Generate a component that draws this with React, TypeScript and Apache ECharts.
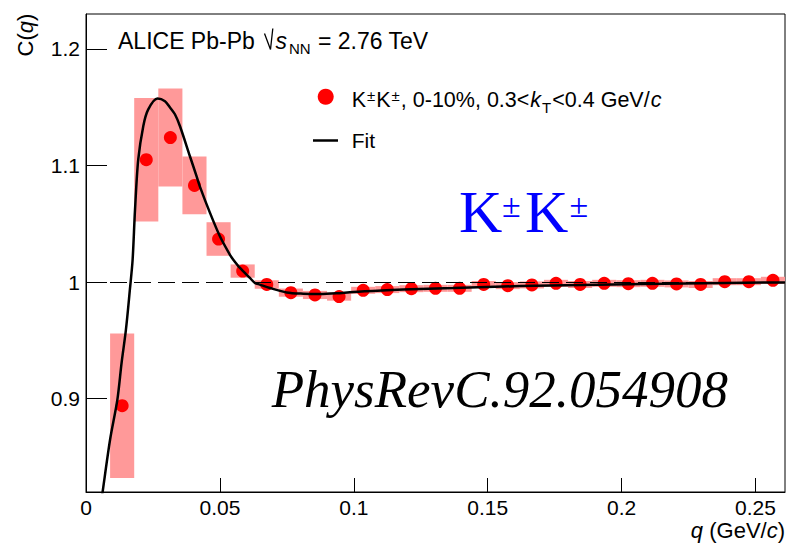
import React, { useEffect, useRef } from "react";
import * as echarts from "echarts";

// ---- data ----
const qValues = [
  0.0135, 0.0225, 0.0315, 0.0405, 0.0495, 0.0585, 0.0675, 0.0765, 0.0855, 0.0945,
  0.1035, 0.1125, 0.1215, 0.1305, 0.1395, 0.1485, 0.1575, 0.1665, 0.1755, 0.1845,
  0.1935, 0.2025, 0.2115, 0.2205, 0.2295, 0.2385, 0.2475, 0.2565,
];
const cValues = [
  0.894, 1.105, 1.124, 1.083, 1.037, 1.0095, 0.998, 0.991, 0.989, 0.9876,
  0.993, 0.9936, 0.9944, 0.9947, 0.9947, 0.998, 0.997, 0.9976, 0.999, 0.998,
  0.999, 0.9987, 0.999, 0.9985, 0.998, 1.0004, 1.0004, 1.0016,
];
const sysErrors = [
  0.062, 0.053, 0.042, 0.0247, 0.0144, 0.0057, 0.0036, 0.0035, 0.0035, 0.0035,
  0.003, 0.003, 0.003, 0.003, 0.003, 0.003, 0.003, 0.003, 0.003, 0.003,
  0.003, 0.003, 0.003, 0.003, 0.003, 0.003, 0.003, 0.003,
];
const binWidth = 0.009;

const fitQ = [
  0.005, 0.0062, 0.009, 0.0117, 0.0133, 0.0149, 0.0164, 0.0174, 0.0183, 0.0195,
  0.0214, 0.0232, 0.0267, 0.0295, 0.0313, 0.0332, 0.0351, 0.0388, 0.0413, 0.0425,
  0.0463, 0.05, 0.0537, 0.055, 0.0575, 0.0612, 0.0631, 0.0649, 0.0687, 0.0749,
  0.0811, 0.0873, 0.0935, 0.0998, 0.1122, 0.1246, 0.137, 0.1495, 0.162, 0.208, 0.261,
];
const fitC = [
  0.8, 0.82, 0.865, 0.899, 0.931, 0.959, 0.994, 1.019, 1.062, 1.105,
  1.134, 1.148, 1.1575, 1.1552, 1.15, 1.144, 1.1337, 1.108, 1.0908, 1.0822,
  1.0594, 1.0393, 1.0236, 1.0193, 1.0122, 1.0036, 0.9993, 0.9979, 0.995, 0.9912,
  0.9901, 0.9898, 0.9904, 0.9916, 0.993, 0.9942, 0.995, 0.9959, 0.9966, 0.9985, 0.9998,
];

const xTicks = [0, 0.05, 0.1, 0.15, 0.2, 0.25];
const yTicks = [0.9, 1, 1.1, 1.2];
const xRange = [0, 0.261];
const yRange = [0.82, 1.23];
const refLine = 1;

const SANS = '"Liberation Sans", Arial, sans-serif';
const SERIF = '"Liberation Serif", "Times New Roman", serif';

let measureCtx: CanvasRenderingContext2D | null = null;
function measure(text: string, size: number, family: string, italic?: boolean) {
  if (!measureCtx) measureCtx = document.createElement("canvas").getContext("2d");
  if (!measureCtx) return text.length * size * 0.55;
  measureCtx.font = `${italic ? "italic " : ""}${size}px ${family}`;
  return measureCtx.measureText(text).width;
}

type Seg = { t: string; size: number; italic?: boolean; dy?: number; family?: string; color?: string; gap?: number };
function runText(x0: number, y: number, segs: Seg[]) {
  const els: any[] = [];
  let x = x0;
  for (const s of segs) {
    const fam = s.family || SANS;
    x += s.gap || 0;
    els.push({
      type: "text",
      x,
      y: y + (s.dy || 0),
      z: 100,
      style: {
        text: s.t,
        fontSize: s.size,
        fontFamily: fam,
        fontStyle: s.italic ? "italic" : "normal",
        fill: s.color || "#000",
        align: "left",
        verticalAlign: "middle",
      },
    });
    x += measure(s.t, s.size, fam, s.italic);
  }
  return els;
}

function txt(x: number, y: number, text: string, size: number, opts: any = {}) {
  return {
    type: "text",
    x,
    y,
    z: 100,
    rotation: opts.rotation || 0,
    style: {
      text,
      fontSize: size,
      fontFamily: opts.family || SANS,
      fontStyle: opts.italic ? "italic" : "normal",
      fill: opts.color || "#000",
      align: opts.align || "left",
      verticalAlign: "middle",
      rich: opts.rich,
    },
  };
}

export default function App() {
  const ref = useRef<HTMLDivElement>(null);
  useEffect(() => {
    if (!ref.current) return;
    const chart = echarts.init(ref.current, null, { renderer: "svg" });

    const graphics: any[] = [
      // header
      txt(118, 41, "ALICE Pb-Pb", 23),
      {
        type: "polyline",
        z: 100,
        shape: { points: [[264.5, 33.5], [270.5, 49.5], [272.8, 28.5]] },
        style: { stroke: "#000", lineWidth: 1.3, fill: null },
      },
      txt(275.5, 41, "s", 23, { italic: true }),
      txt(289, 48.5, "NN", 15),
      txt(318, 41, "= 2.76 TeV", 23),
      // legend
      { type: "circle", z: 100, shape: { cx: 325.7, cy: 96.7, r: 8 }, style: { fill: "#ff0000" } },
      ...runText(351.7, 100, [
        { t: "K", size: 21.5 },
        { t: "±", size: 15, dy: -5, gap: 1 },
        { t: "K", size: 21.5, gap: 1 },
        { t: "±", size: 15, dy: -5, gap: 1 },
        { t: ", 0-10%, 0.3<", size: 21.5, gap: 1 },
        { t: "k", size: 21.5, italic: true, gap: 1 },
        { t: "T", size: 15, dy: 7, gap: 1 },
        { t: "<0.4 GeV/", size: 21.5, gap: 1 },
        { t: "c", size: 21.5, italic: true, gap: 1 },
      ]),
      {
        type: "line",
        z: 100,
        shape: { x1: 313, y1: 140.5, x2: 338, y2: 140.5 },
        style: { stroke: "#000", lineWidth: 2.5 },
      },
      txt(351.7, 140.3, "Fit", 21),
      // big annotations
      txt(459, 212, "K", 60, { family: SERIF, color: "#0000ff" }),
      txt(502, 205, "±", 34, { family: SERIF, color: "#0000ff" }),
      txt(525, 212, "K", 60, { family: SERIF, color: "#0000ff" }),
      txt(569.5, 205, "±", 34, { family: SERIF, color: "#0000ff" }),
      txt(271.7, 389, "PhysRevC.92.054908", 53, { family: SERIF, italic: true }),
      // axis titles
      txt(25, 35, "C({i|q})", 22, {
        align: "center",
        rotation: Math.PI / 2,
        rich: { i: { fontStyle: "italic", fontSize: 22, fontFamily: SANS } },
      }),
      txt(785, 530, "{i|q} (GeV/{i|c})", 22, {
        align: "right",
        rich: { i: { fontStyle: "italic", fontSize: 22, fontFamily: SANS } },
      }),
    ];

    const option: any = {
      animation: false,
      backgroundColor: "#fff",
      grid: {
        left: 86,
        right: 1,
        top: 14,
        bottom: 53,
        show: true,
        borderColor: "#000",
        borderWidth: 1,
        backgroundColor: "transparent",
      },
      xAxis: {
        type: "value",
        min: xRange[0],
        max: xRange[1],
        splitLine: { show: false },
        axisLine: { show: true, onZero: false, lineStyle: { color: "#000", width: 1 } },
        axisTick: { show: true, inside: true, length: 14, customValues: xTicks, lineStyle: { color: "#000" } },
        axisLabel: {
          customValues: xTicks,
          color: "#000",
          fontSize: 21,
          fontFamily: SANS,
          margin: 5,
        },
        minorTick: { show: false },
      },
      yAxis: {
        type: "value",
        min: yRange[0],
        max: yRange[1],
        splitLine: { show: false },
        axisLine: { show: true, onZero: false, lineStyle: { color: "#000", width: 1 } },
        axisTick: { show: true, inside: true, length: 21, customValues: yTicks, lineStyle: { color: "#000" } },
        axisLabel: {
          customValues: yTicks,
          color: "#000",
          fontSize: 21,
          fontFamily: SANS,
          margin: 6,
        },
      },
      series: [
        {
          type: "custom",
          name: "sys",
          z: 1,
          clip: true,
          data: qValues.map((q, i) => [q, cValues[i], sysErrors[i]]),
          encode: { x: 0, y: 1 },
          renderItem: (params: any, api: any) => {
            const q = api.value(0);
            const c = api.value(1);
            const e = api.value(2);
            const p1 = api.coord([q - binWidth / 2, c + e]);
            const p2 = api.coord([q + binWidth / 2, c - e]);
            return {
              type: "rect",
              shape: { x: p1[0], y: p1[1], width: p2[0] - p1[0], height: p2[1] - p1[1] },
              style: { fill: "#ff9999" },
            };
          },
          markLine: {
            silent: true,
            symbol: "none",
            label: { show: false },
            lineStyle: { color: "#000", width: 1, type: [17, 7] },
            data: [{ yAxis: refLine }],
          },
        },
        {
          type: "scatter",
          name: "data",
          z: 2,
          symbol: "circle",
          symbolSize: 13,
          itemStyle: { color: "#ff0000", opacity: 1 },
          data: qValues.map((q, i) => [q, cValues[i]]),
        },
        {
          type: "line",
          name: "Fit",
          z: 3,
          showSymbol: false,
          smooth: 0.3,
          clip: true,
          lineStyle: { color: "#000", width: 2.5 },
          data: fitQ.map((q, i) => [q, fitC[i]]),
        },
      ],
      graphic: graphics,
    };

    chart.setOption(option);
    return () => chart.dispose();
  }, []);

  return (
    <div
      ref={ref}
      style={{ position: "fixed", left: 0, top: 0, width: 786, height: 545, background: "#fff" }}
    />
  );
}
